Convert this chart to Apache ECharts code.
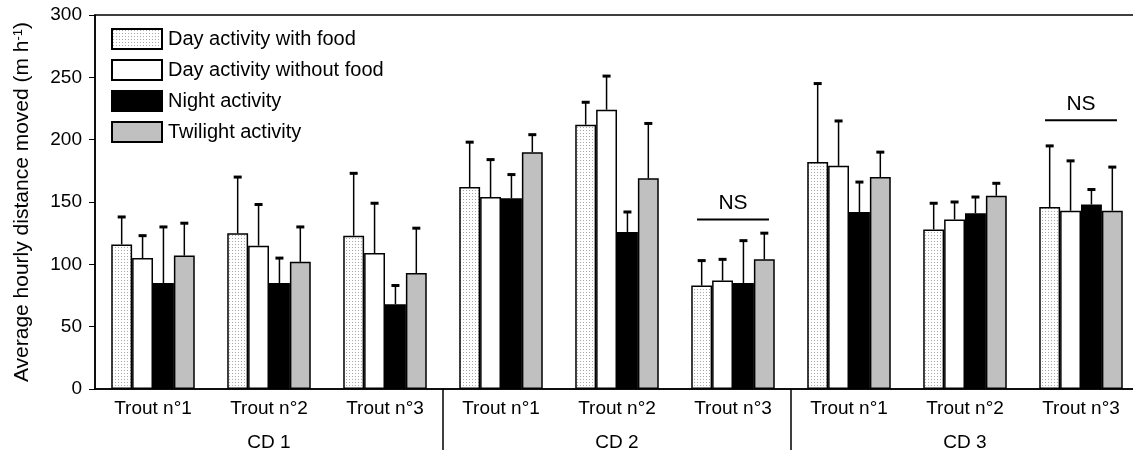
<!DOCTYPE html>
<html>
<head>
<meta charset="utf-8">
<script src="https://cdn.jsdelivr.net/npm/echarts@6/dist/echarts.min.js"></script>
<style>
html,body{margin:0;padding:0;background:#fff;}
#chart{width:1133px;height:455px;}
</style>
</head>
<body>
<div id="chart"></div>
<script>
// ---- data ----
const categories = ['Trout n°1','Trout n°2','Trout n°3','Trout n°1','Trout n°2','Trout n°3','Trout n°1','Trout n°2','Trout n°3'];
const cdLabels = ['CD 1','CD 2','CD 3'];
const seriesNames = ['Day activity with food','Day activity without food','Night activity','Twilight activity'];
const dayFood      = [116, 125, 123, 162, 212,  83, 182, 128, 146];
const dayFoodSD    = [ 22,  45,  50,  36,  18,  20,  63,  21,  49];
const dayNoFood    = [105, 115, 109, 154, 224,  87, 179, 136, 143];
const dayNoFoodSD  = [ 18,  33,  40,  30,  27,  17,  36,  14,  40];
const night        = [ 85,  85,  68, 153, 126,  85, 142, 141, 148];
const nightSD      = [ 45,  20,  15,  19,  16,  34,  24,  13,  12];
const twilight     = [107, 102,  93, 190, 169, 104, 170, 155, 143];
const twilightSD   = [ 26,  28,  36,  14,  44,  21,  20,  10,  35];
const nsGroups     = [5, 8];
const nsLevels     = [136, 215.5];
const yTicks       = {min: 0, max: 300, interval: 50};

// ---- styles ----
const FONT = "'Liberation Sans', Arial, Helvetica, sans-serif";
const GAP = 0.28;
const pat = document.createElement('canvas');
pat.width = 3; pat.height = 3;
const pctx = pat.getContext('2d');
pctx.fillStyle = '#ffffff'; pctx.fillRect(0,0,3,3);
pctx.fillStyle = '#a8a8a8'; pctx.fillRect(1,1,1,1);
const fills = [{image: pat, repeat: 'repeat'}, '#ffffff', '#000000', '#c0c0c0'];
const means = [dayFood, dayNoFood, night, twilight];
const sds = [dayFoodSD, dayNoFoodSD, nightSD, twilightSD];

const errData = [];
means.forEach((arr, s) => arr.forEach((v, i) => errData.push([i, s, v, sds[s][i]])));
const nsData = nsGroups.map((g, k) => [g, nsLevels[k]]);

const barSeries = seriesNames.map((name, s) => ({
  name: name,
  type: 'bar',
  data: means[s],
  barGap: '0%',
  barCategoryGap: (GAP*100) + '%',
  itemStyle: {color: fills[s], borderColor: '#000', borderWidth: 1.5},
  emphasis: {disabled: true}
}));

const chart = echarts.init(document.getElementById('chart'), null, {renderer: 'canvas'});
chart.setOption({
  animation: false,
  backgroundColor: '#fff',
  textStyle: {fontFamily: FONT, color: '#000'},
  grid: {left: 95, top: 15, width: 1044, bottom: 66, show: true, borderColor: '#000', borderWidth: 1.5, containLabel: false, outerBoundsMode: 'none'},
  legend: {
    data: seriesNames, orient: 'vertical', left: 106, top: 23,
    itemWidth: 50, itemHeight: 20, itemGap: 9, icon: 'rect', selectedMode: false,
    textStyle: {fontSize: 20, color: '#000', fontFamily: FONT, padding: [0,0,0,1]}
  },
  xAxis: [{
    type: 'category', data: categories, position: 'bottom',
    axisLine: {lineStyle: {color: '#000', width: 1.5}},
    axisTick: {length: 6, lineStyle: {color: '#000', width: 1}},
    axisLabel: {fontSize: 19, color: '#000', margin: 10, fontFamily: FONT, interval: 0}
  }, {
    type: 'category', data: cdLabels, position: 'bottom',
    axisLine: {show: false},
    axisTick: {show: true, length: 61, interval: function (i) { return i > 0; }, lineStyle: {color: '#000', width: 1.5}},
    axisLabel: {fontSize: 19, color: '#000', margin: 44, fontFamily: FONT}
  }],
  yAxis: {
    type: 'value', min: yTicks.min, max: yTicks.max, interval: yTicks.interval,
    name: 'Average hourly distance moved (m h{sup|-1})',
    nameLocation: 'middle', nameGap: 62, nameRotate: 90,
    nameTextStyle: {fontSize: 21, color: '#000', fontFamily: FONT,
      rich: {sup: {fontSize: 13, verticalAlign: 'top', color: '#000', fontFamily: FONT}}},
    axisLine: {show: true, lineStyle: {color: '#000', width: 1.5}},
    axisTick: {show: true, length: 6, lineStyle: {color: '#000', width: 1}},
    axisLabel: {fontSize: 19, color: '#000', margin: 13, fontFamily: FONT},
    splitLine: {show: false}
  },
  series: barSeries.concat([{
    type: 'custom',
    name: 'errors',
    data: errData,
    z: 5,
    silent: true,
    encode: {x: 0, y: 2},
    renderItem: function (params, api) {
      const cat = api.value(0), s = api.value(1), m = api.value(2), sd = api.value(3);
      const band = api.size([1, 0])[0];
      const bw = band * (1 - GAP) / 4;
      const base = api.coord([cat, m]);
      const top = api.coord([cat, m + sd]);
      const x = base[0] - 2 * bw + (s + 0.5) * bw;
      return {type: 'group', children: [
        {type: 'line', shape: {x1: x, y1: base[1], x2: x, y2: top[1]}, style: {stroke: '#000', lineWidth: 1.5}},
        {type: 'rect', shape: {x: x - 4, y: top[1] - 1.5, width: 8, height: 3}, style: {fill: '#000'}}
      ]};
    }
  }, {
    type: 'custom',
    name: 'ns',
    data: nsData,
    z: 5,
    silent: true,
    encode: {x: 0, y: 1},
    renderItem: function (params, api) {
      const c = api.coord([api.value(0), api.value(1)]);
      const band = api.size([1, 0])[0];
      const half = band * 0.31;
      return {type: 'group', children: [
        {type: 'line', shape: {x1: c[0] - half, y1: c[1], x2: c[0] + half, y2: c[1]}, style: {stroke: '#000', lineWidth: 2}},
        {type: 'text', x: c[0], y: c[1] - 6, style: {text: 'NS', fontSize: 21, fontFamily: FONT, fill: '#000', align: 'center', verticalAlign: 'bottom'}}
      ]};
    }
  }])
});
</script>
</body>
</html>
